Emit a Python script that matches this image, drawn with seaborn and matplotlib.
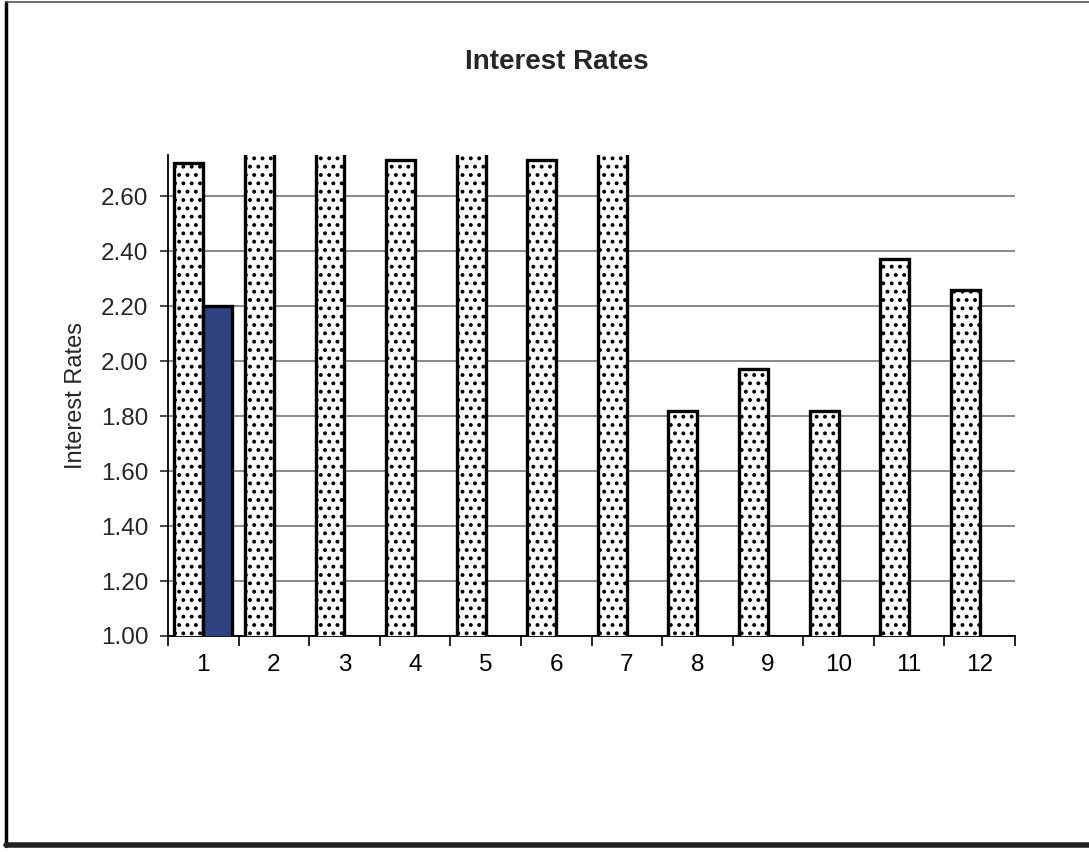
import matplotlib
matplotlib.use('Agg')
import matplotlib.pyplot as plt
import seaborn as sns
import pandas as pd
import numpy as np
from matplotlib.lines import Line2D
from matplotlib.ticker import FixedLocator, FormatStrFormatter

categories = ['1', '2', '3', '4', '5', '6', '7', '8', '9', '10', '11', '12']
series_a = [2.72, 2.85, 2.90, 2.73, 2.88, 2.73, 2.95, 1.82, 1.97, 1.82, 2.37, 2.26]
series_b = [2.20, np.nan, np.nan, np.nan, np.nan, np.nan, np.nan, np.nan, np.nan, np.nan, np.nan, np.nan]
series_names = ['Series 1', 'Series 2']
y_ticks = [1.00, 1.20, 1.40, 1.60, 1.80, 2.00, 2.20, 2.40, 2.60]

df = pd.DataFrame({
    'category': categories * 2,
    'series': [series_names[0]] * len(categories) + [series_names[1]] * len(categories),
    'value': series_a + series_b,
})

sns.set_style('white')
plt.rcParams['font.family'] = ['Liberation Sans', 'DejaVu Sans']
plt.rcParams['hatch.linewidth'] = 1.6

fig = plt.figure(figsize=(10.89, 8.52), dpi=100)
ax = fig.add_axes([168 / 1089, 1 - 636 / 852, (1015 - 168) / 1089, (636 - 155) / 852])

sns.barplot(data=df, x='category', y='value', hue='series', order=categories,
            hue_order=series_names, palette=['white', '#1f3c8c'], width=0.82,
            dodge=True, gap=0, edgecolor='black', linewidth=2.4, errorbar=None,
            legend=False, ax=ax, zorder=3)

for p in ax.containers[0]:
    p.set_hatch('..')

ax.set_ylim(1.0, 2.75)
ax.set_xlim(-0.5, len(categories) - 0.5)
ax.set_yticks(y_ticks)
ax.yaxis.set_major_formatter(FormatStrFormatter('%.2f'))
ax.yaxis.grid(True, color='#808080', linewidth=1.3, zorder=0)
ax.set_axisbelow(True)

ax.xaxis.set_minor_locator(FixedLocator(np.arange(-0.5, len(categories), 1.0)))
ax.tick_params(axis='x', which='major', length=0, labelsize=17.5, pad=13, colors='black')
ax.tick_params(axis='x', which='minor', length=7, width=1.2, direction='out', color='black', bottom=True)
ax.tick_params(axis='y', which='major', length=6, width=1.2, direction='out', labelsize=17.5, pad=8, left=True)

for s in ['top', 'right']:
    ax.spines[s].set_visible(False)
ax.spines['left'].set_color('black')
ax.spines['left'].set_linewidth(1.3)
ax.spines['bottom'].set_color('black')
ax.spines['bottom'].set_linewidth(1.3)

ax.set_xlabel('')
ax.set_ylabel('Interest Rates', fontsize=17, labelpad=10)
fig.text(557 / 1089, 1 - 62 / 852, 'Interest Rates', fontsize=20, fontweight='bold',
         ha='center', va='center')

# page-like frame
fig.add_artist(Line2D([6 / 1089, 6 / 1089], [1 - 2 / 852, 1 - 846 / 852], color='black', lw=2.5, transform=fig.transFigure))
fig.add_artist(Line2D([6 / 1089, 1.0], [1 - 2 / 852, 1 - 2 / 852], color='#555555', lw=1.2, transform=fig.transFigure))
fig.add_artist(Line2D([6 / 1089, 1.0], [1 - 845 / 852, 1 - 845 / 852], color='#222222', lw=4, transform=fig.transFigure))

fig.savefig('out.png', dpi=100, facecolor='white')
